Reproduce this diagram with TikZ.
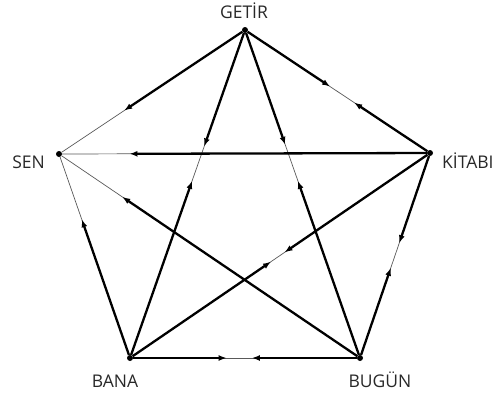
\documentclass[tikz,border=0pt]{standalone}
\usepackage{fontspec}
\setsansfont{Open Sans}
\usepackage{tikz}
\usetikzlibrary{arrows.meta,calc}
\definecolor{lblgray}{RGB}{40,40,40}

\begin{document}
\begin{tikzpicture}[x=1pt,y=-1pt, >={Latex[length=8pt,width=6pt]},
  dot/.style={circle,fill=black,inner sep=0pt,minimum size=6pt},
  lbl/.style={font=\sffamily\fontsize{17.5}{17.5}\selectfont,text=lblgray,inner sep=0pt},
  rest/.style={line width=0.7pt,black!65},
  half/.style={line width=2.3pt,->}]
\useasboundingbox (0,0) rectangle (497,397);
% vertices
\node[dot] (getir) at (245,30) {};
\node[dot] (kitabi) at (430,153) {};
\node[dot] (bugun) at (360,358) {};
\node[dot] (bana) at (130,358) {};
\node[dot] (sen) at (59,154) {};
% labels
\node[lbl] (lgetir) at (244,11) {GETİR};
\node[lbl,anchor=west] (lkitabi) at (442,161) {KİTABI};
\node[lbl] (lbugun) at (380,380) {BUGÜN};
\node[lbl] (lbana) at (115,381) {BANA};
\node[lbl,anchor=east] (lsen) at (45,162) {SEN};
% thin edges
\foreach \a/\b in {getir/kitabi,getir/bugun,getir/bana,getir/sen,kitabi/bugun,kitabi/bana,kitabi/sen,bugun/bana,bugun/sen,bana/sen}
  \draw[rest] (\a) -- (\b);
% thick halves with arrows
\foreach \a/\b/\t in {getir/kitabi/0.46,kitabi/getir/0.41,getir/bugun/0.35,bugun/getir/0.54,
  getir/bana/0.355,bana/getir/0.54,getir/sen/0.65,kitabi/sen/0.81,kitabi/bana/0.485,
  bana/kitabi/0.47,kitabi/bugun/0.44,bugun/kitabi/0.44,bana/bugun/0.42,bugun/bana/0.47,
  bugun/sen/0.79,bana/sen/0.68}
  \draw[half] (\a) -- ($(\a)!\t!(\b)$);
\end{tikzpicture}
\end{document}
